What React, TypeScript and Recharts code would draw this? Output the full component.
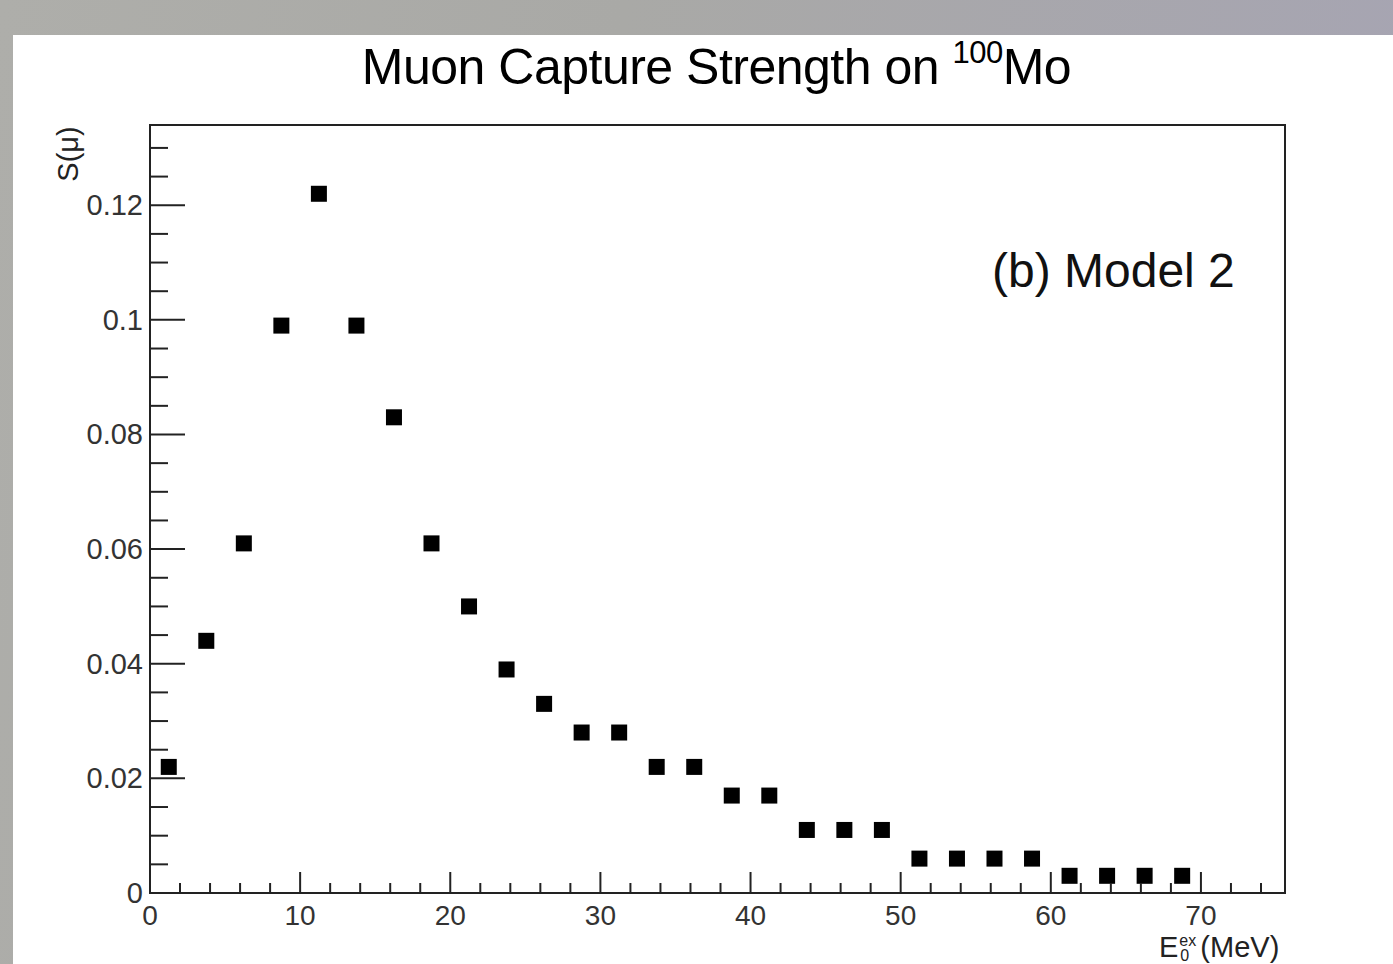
import * as React from 'react';
import { ScatterChart, Scatter, XAxis, YAxis, ReferenceArea } from 'recharts';

// bin centres (MeV) and strengths
const energies = [
  1.25, 3.75, 6.25, 8.75, 11.25, 13.75, 16.25, 18.75, 21.25, 23.75,
  26.25, 28.75, 31.25, 33.75, 36.25, 38.75, 41.25, 43.75, 46.25, 48.75,
  51.25, 53.75, 56.25, 58.75, 61.25, 63.75, 66.25, 68.75,
];
const strengths = [
  0.022, 0.044, 0.061, 0.099, 0.122, 0.099, 0.083, 0.061, 0.050, 0.039,
  0.033, 0.028, 0.028, 0.022, 0.022, 0.017, 0.017, 0.011, 0.011, 0.011,
  0.006, 0.006, 0.006, 0.006, 0.003, 0.003, 0.003, 0.003,
];

const xMajorTicks = [0, 10, 20, 30, 40, 50, 60, 70];
const xTickLabels = ['0', '10', '20', '30', '40', '50', '60', '70'];
const yMajorTicks = [0, 0.02, 0.04, 0.06, 0.08, 0.1, 0.12];
const yTickLabels = ['0', '0.02', '0.04', '0.06', '0.08', '0.1', '0.12'];

const X_MAX = 75.6;
const Y_MAX = 0.134;
const X_MINOR = 2;
const Y_MINOR = 0.005;

const xTicks: number[] = [];
for (let i = 0; i * X_MINOR < X_MAX; i++) xTicks.push(+(i * X_MINOR).toFixed(3));
const yTicks: number[] = [];
for (let i = 0; i * Y_MINOR < Y_MAX; i++) yTicks.push(+(i * Y_MINOR).toFixed(4));

const data = energies.map((e, i) => ({ e, s: strengths[i] }));

const FONT = '"Liberation Sans", Arial, Helvetica, sans-serif';
const INK = '#222';

const findLabel = (v: number, majors: number[], labels: string[]) => {
  const idx = majors.findIndex(m => Math.abs(m - v) < 1e-6);
  return idx >= 0 ? labels[idx] : null;
};

const YTick = (props: any) => {
  const { x, y, payload } = props;
  const label = findLabel(payload.value, yMajorTicks, yTickLabels);
  return (
    <g>
      <line x1={x} x2={x + (label ? 35 : 18)} y1={y} y2={y} stroke={INK} strokeWidth={2} />
      {label && (
        <text x={x - 7} y={y + 10} textAnchor="end" fontSize={29} fill="#333" fontFamily={FONT}>
          {label}
        </text>
      )}
    </g>
  );
};

const XTick = (props: any) => {
  const { x, y, payload } = props;
  const label = findLabel(payload.value, xMajorTicks, xTickLabels);
  return (
    <g>
      <line x1={x} x2={x} y1={y} y2={y - (label ? 21 : 10)} stroke={INK} strokeWidth={2} />
      {label && (
        <text x={x} y={y + 32} textAnchor="middle" fontSize={28} fill="#333" fontFamily={FONT}>
          {label}
        </text>
      )}
    </g>
  );
};

const SquareMarker = (props: any) => {
  const { cx, cy } = props;
  return <rect x={cx - 8} y={cy - 8} width={16} height={16} fill="#000" />;
};

export default function App() {
  return (
    <div
      style={{
        position: 'absolute',
        left: 0,
        top: 0,
        width: 1393,
        height: 964,
        overflow: 'hidden',
        background: 'linear-gradient(100deg, #aeaeaa 0%, #a9a9a6 40%, #a6a4b4 100%)',
        fontFamily: FONT,
      }}
    >
      <div style={{ position: 'absolute', left: 13, top: 35, width: 1380, height: 929, background: '#fff' }} />

      <ScatterChart
        width={1393}
        height={964}
        margin={{ top: 125, right: 108, left: 90, bottom: 31 }}
        style={{ position: 'absolute', left: 0, top: 0 }}
      >
        <XAxis
          type="number"
          dataKey="e"
          domain={[0, X_MAX]}
          ticks={xTicks}
          interval={0}
          allowDataOverflow
          height={40}
          tickSize={0}
          tickMargin={0}
          tickLine={false}
          axisLine={{ stroke: INK, strokeWidth: 2 }}
          tick={<XTick />}
        />
        <YAxis
          type="number"
          dataKey="s"
          domain={[0, Y_MAX]}
          ticks={yTicks}
          interval={0}
          allowDataOverflow
          width={60}
          tickSize={0}
          tickMargin={0}
          tickLine={false}
          axisLine={{ stroke: INK, strokeWidth: 2 }}
          tick={<YTick />}
        />
        <ReferenceArea
          x1={0}
          x2={X_MAX}
          y1={0}
          y2={Y_MAX}
          fill="none"
          fillOpacity={0}
          stroke={INK}
          strokeWidth={2}
          ifOverflow="visible"
        />
        <Scatter data={data} shape={<SquareMarker />} isAnimationActive={false} />
      </ScatterChart>

      <div
        style={{
          position: 'absolute',
          left: 0,
          width: 1433,
          top: 38,
          textAlign: 'center',
          fontSize: 50,
          color: '#000',
          whiteSpace: 'nowrap',
          letterSpacing: -0.5,
        }}
      >
        Muon Capture Strength on{' '}
        <span style={{ fontSize: 31, position: 'relative', top: -21 }}>100</span>Mo
      </div>

      <div style={{ position: 'absolute', left: 992, top: 243, fontSize: 48, color: '#111', whiteSpace: 'nowrap' }}>
        (b) Model 2
      </div>

      <div
        style={{
          position: 'absolute',
          left: 68,
          top: 154,
          transform: 'translate(-50%, -50%) rotate(-90deg)',
          fontSize: 29,
          color: '#222',
          whiteSpace: 'nowrap',
        }}
      >
        S(μ)
      </div>

      <div
        style={{
          position: 'absolute',
          left: 1159,
          top: 931,
          fontSize: 29,
          lineHeight: '32px',
          color: '#222',
          whiteSpace: 'nowrap',
        }}
      >
        E
        <span style={{ display: 'inline-block', position: 'relative', width: 22, height: 32, fontSize: 16, lineHeight: '16px', verticalAlign: 'top' }}>
          <span style={{ position: 'absolute', left: 1, top: 2 }}>ex</span>
          <span style={{ position: 'absolute', left: 2, top: 17 }}>0</span>
        </span>
        (MeV)
      </div>
    </div>
  );
}
